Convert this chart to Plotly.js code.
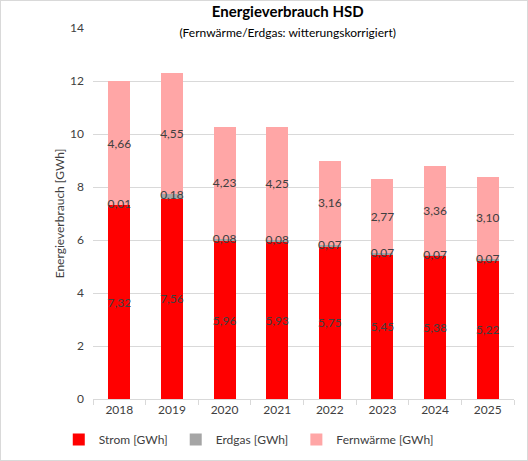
<!DOCTYPE html>
<html>
<head>
<meta charset="utf-8">
<script src="https://cdn.plot.ly/plotly-3.0.1.min.js"></script>
<style>
  body { margin: 0; background: #fff; }
  #chart { width: 528px; height: 461px; box-sizing: border-box; border: 1px solid #d9d9d9; }
</style>
</head>
<body>
<div id="chart"></div>
<script>
var years = ['2018', '2019', '2020', '2021', '2022', '2023', '2024', '2025'];
var strom = [7.32, 7.56, 5.96, 5.93, 5.75, 5.45, 5.38, 5.22];
var erdgas = [0.01, 0.18, 0.08, 0.08, 0.07, 0.07, 0.07, 0.07];
var fernwaerme = [4.66, 4.55, 4.23, 4.25, 3.16, 2.77, 3.36, 3.10];

function fmt(v) { return v.toFixed(2).replace('.', ','); }

// trailing space only widens the gap between legend entries
var gap = '&nbsp;';

function makeTrace(name, y, color, showText) {
  return {
    type: 'bar',
    name: name,
    x: years,
    y: y,
    marker: { color: color },
    text: y.map(fmt),
    textposition: showText ? 'inside' : 'none',
    insidetextanchor: 'middle',
    constraintext: 'none',
    textangle: 0,
    insidetextfont: { color: '#404040', size: 12 },
    hoverinfo: 'x+y'
  };
}

// Erdgas labels sit on the thin grey segment, drawn as a text trace so they are not shrunk
var erdgasLabels = {
  type: 'scatter',
  mode: 'text',
  x: years,
  y: strom.map(function (s, i) { return s + erdgas[i] / 2; }),
  text: erdgas.map(fmt),
  textposition: 'middle center',
  textfont: { color: '#404040', size: 12 },
  showlegend: false,
  hoverinfo: 'skip'
};

var data = [
  makeTrace('Strom [GWh]' + gap, strom, '#ff0000', true),
  makeTrace('Erdgas [GWh]' + gap, erdgas, '#a5a5a5', false),
  makeTrace('Fernwärme [GWh]', fernwaerme, '#ffa6a6', true),
  erdgasLabels
];

var layout = {
  width: 526,
  height: 459,
  barmode: 'stack',
  bargap: 0.58,
  separators: ',.',
  font: { family: 'Lato, "Open Sans", sans-serif', size: 12, color: '#595959' },
  margin: { l: 92, r: 13, t: 27, b: 61, autoexpand: false },
  paper_bgcolor: '#fff',
  plot_bgcolor: '#fff',
  title: {
    text: '<b>Energieverbrauch HSD</b><br><span style="font-size:12px">(Fernwärme/Erdgas: witterungskorrigiert)</span>',
    font: { size: 15, color: '#000' },
    x: 0.545,
    xanchor: 'center',
    y: 0.965,
    yanchor: 'top'
  },
  xaxis: {
    type: 'category',
    tickmode: 'array',
    tickvals: years,
    ticktext: years,
    showline: true,
    linecolor: '#d9d9d9',
    ticks: 'outside',
    ticklen: 5,
    tickcolor: '#d9d9d9',
    tickson: 'boundaries',
    tickfont: { size: 12, color: '#404040' },
    fixedrange: true
  },
  yaxis: {
    range: [0, 14],
    dtick: 2,
    gridcolor: '#d9d9d9',
    zeroline: false,
    tickfont: { size: 12, color: '#404040' },
    ticklabelstandoff: 8,
    title: { text: 'Energieverbrauch [GWh]', font: { size: 12, color: '#404040' }, standoff: 2 },
    fixedrange: true
  },
  legend: {
    orientation: 'h',
    x: 0.37,
    xanchor: 'center',
    y: -0.07,
    yanchor: 'top',
    itemwidth: 30,
    font: { size: 12, color: '#404040' },
    traceorder: 'normal'
  },
  showlegend: true
};

Plotly.newPlot('chart', data, layout, { displayModeBar: false, staticPlot: true });
</script>
</body>
</html>
